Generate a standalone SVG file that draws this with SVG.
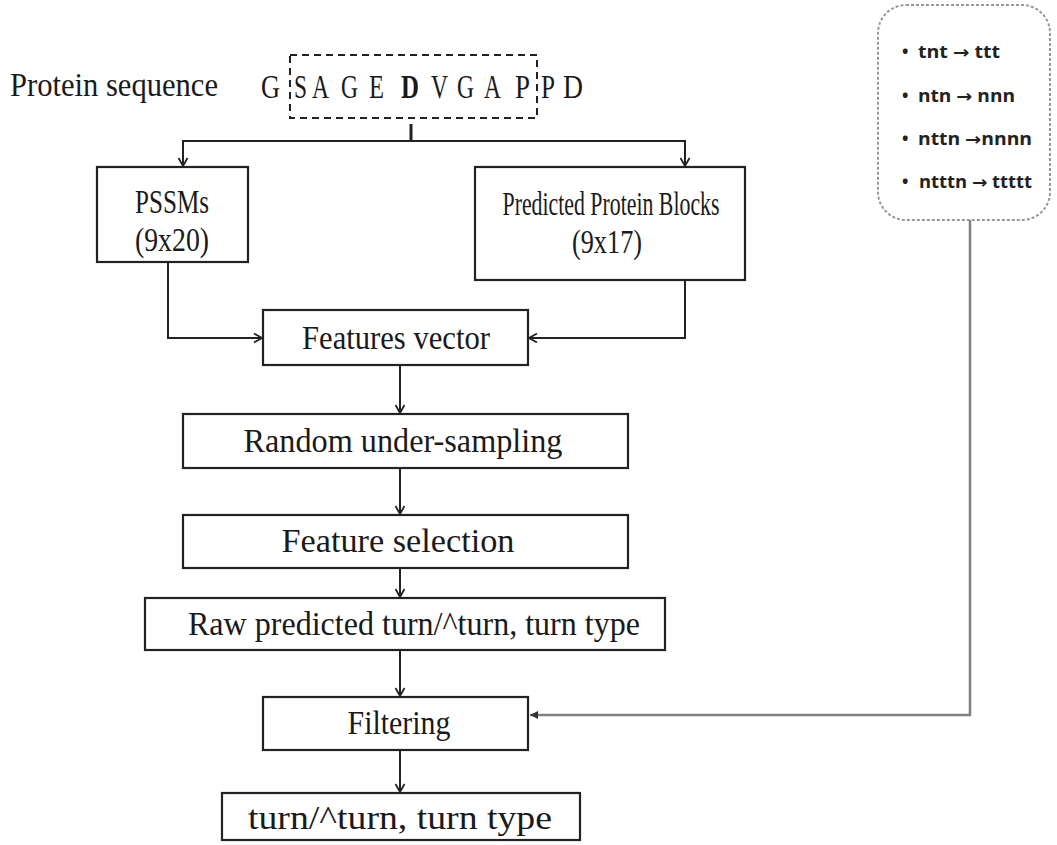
<svg xmlns="http://www.w3.org/2000/svg" width="1057" height="845" viewBox="0 0 1057 845">
<style>
.box{fill:#fff;stroke:#222;stroke-width:2.2}
.t{font-family:"Liberation Serif","Times New Roman",serif;font-size:33px;fill:#1a1a1a;text-anchor:middle}
.seq{font-family:"Liberation Serif","Times New Roman",serif;font-size:33px;fill:#1a1a1a}
.conn{fill:none;stroke:#222;stroke-width:2}
.gconn{fill:none;stroke:#808080;stroke-width:2.5}
.r{font-family:"Open Sans","Liberation Sans",sans-serif;font-weight:bold;font-size:17px;fill:#222}
.ar{font-family:"DejaVu Sans",sans-serif;font-weight:bold}
</style>
<defs>
<marker id="a" markerWidth="12" markerHeight="12" refX="9" refY="5" orient="auto" markerUnits="userSpaceOnUse">
<path d="M1,0.5 L9,5 L1,9.5" fill="none" stroke="#222" stroke-width="1.8"/>
</marker>
<marker id="g" markerWidth="10" markerHeight="10" refX="8" refY="4" orient="auto" markerUnits="userSpaceOnUse">
<path d="M0,0 L8,4 L0,8 Z" fill="#333"/>
</marker>
</defs>
<rect width="1057" height="845" fill="#fff"/>

<g id="seq">
<text class="seq" x="10" y="96" textLength="208" lengthAdjust="spacingAndGlyphs">Protein sequence</text>
<text class="seq" x="261" y="98" textLength="19" lengthAdjust="spacingAndGlyphs">G</text>
<text class="seq" x="294" y="98" textLength="13" lengthAdjust="spacingAndGlyphs">S</text>
<text class="seq" x="312" y="98" textLength="17" lengthAdjust="spacingAndGlyphs">A</text>
<text class="seq" x="341" y="98" textLength="17" lengthAdjust="spacingAndGlyphs">G</text>
<text class="seq" x="369" y="98" textLength="15" lengthAdjust="spacingAndGlyphs">E</text>
<text class="seq" x="401" y="98" textLength="18" lengthAdjust="spacingAndGlyphs" font-weight="bold">D</text>
<text class="seq" x="431" y="98" textLength="17" lengthAdjust="spacingAndGlyphs">V</text>
<text class="seq" x="457" y="98" textLength="17" lengthAdjust="spacingAndGlyphs">G</text>
<text class="seq" x="484" y="98" textLength="17" lengthAdjust="spacingAndGlyphs">A</text>
<text class="seq" x="515" y="98" textLength="15" lengthAdjust="spacingAndGlyphs">P</text>
<text class="seq" x="541" y="98" textLength="14" lengthAdjust="spacingAndGlyphs">P</text>
<text class="seq" x="563" y="98" textLength="20" lengthAdjust="spacingAndGlyphs">D</text>
<rect x="290" y="55" width="247" height="63" fill="none" stroke="#222" stroke-width="2" stroke-dasharray="7,5"/>
</g>

<g id="rules">
<rect x="878" y="5" width="172" height="215" rx="28" fill="none" stroke="#999" stroke-width="2" stroke-dasharray="3,2"/>
<text class="r" x="902" y="58">•</text><text class="r" x="918" y="58" textLength="82" lengthAdjust="spacingAndGlyphs">tnt <tspan class="ar">→</tspan> ttt</text>
<text class="r" x="902" y="102">•</text><text class="r" x="918" y="102" textLength="97" lengthAdjust="spacingAndGlyphs">ntn <tspan class="ar">→</tspan> nnn</text>
<text class="r" x="902" y="145">•</text><text class="r" x="918" y="145" textLength="114" lengthAdjust="spacingAndGlyphs">nttn <tspan class="ar">→</tspan>nnnn</text>
<text class="r" x="902" y="188">•</text><text class="r" x="919" y="188" textLength="113" lengthAdjust="spacingAndGlyphs">ntttn <tspan class="ar">→</tspan> ttttt</text>
</g>

<g id="pssm">
<rect class="box" x="97" y="167" width="151" height="95"/>
<text class="t" x="172" y="213" textLength="74" lengthAdjust="spacingAndGlyphs">PSSMs</text>
<text class="t" x="172" y="251" textLength="74" lengthAdjust="spacingAndGlyphs">(9x20)</text>
</g>
<g id="ppb">
<rect class="box" x="475" y="167" width="270" height="113"/>
<text class="t" x="611" y="215" textLength="217" lengthAdjust="spacingAndGlyphs">Predicted Protein Blocks</text>
<text class="t" x="607" y="253" textLength="70" lengthAdjust="spacingAndGlyphs">(9x17)</text>
</g>
<g id="fv">
<rect class="box" x="263" y="310" width="265" height="55"/>
<text class="t" x="396" y="349" textLength="188" lengthAdjust="spacingAndGlyphs">Features vector</text>
</g>
<g id="rus">
<rect class="box" x="183" y="414" width="445" height="54"/>
<text class="t" x="403" y="452" textLength="319" lengthAdjust="spacingAndGlyphs">Random under-sampling</text>
</g>
<g id="fs">
<rect class="box" x="183" y="515" width="445" height="53"/>
<text class="t" x="398" y="552" textLength="233" lengthAdjust="spacingAndGlyphs">Feature selection</text>
</g>
<g id="raw">
<rect class="box" x="145" y="598" width="520" height="52"/>
<text class="t" x="414" y="635" textLength="452" lengthAdjust="spacingAndGlyphs">Raw predicted turn/^turn, turn type</text>
</g>
<g id="filt">
<rect class="box" x="263" y="697" width="265" height="53"/>
<text class="t" x="399" y="734" textLength="103" lengthAdjust="spacingAndGlyphs">Filtering</text>
</g>
<g id="out">
<rect class="box" x="222" y="793" width="358" height="47"/>
<text class="t" x="400" y="829" textLength="304" lengthAdjust="spacingAndGlyphs">turn/^turn, turn type</text>
</g>

<g id="connectors">
<path d="M411,124 V141" fill="none" stroke="#222" stroke-width="3"/>
<path class="conn" d="M411,141 H183 V166" marker-end="url(#a)"/>
<path class="conn" d="M411,141 H685 V166" marker-end="url(#a)"/>
<path class="conn" d="M168,262 V338 H262" marker-end="url(#a)"/>
<path class="conn" d="M685,280 V338 H529" marker-end="url(#a)"/>
<path class="conn" d="M400,365 V413" marker-end="url(#a)"/>
<path class="conn" d="M400,468 V514" marker-end="url(#a)"/>
<path class="conn" d="M400,568 V597" marker-end="url(#a)"/>
<path class="conn" d="M400,650 V696" marker-end="url(#a)"/>
<path class="conn" d="M400,750 V792" marker-end="url(#a)"/>
<path class="gconn" d="M970,220 V715 H530" marker-end="url(#g)"/>
</g>
</svg>
